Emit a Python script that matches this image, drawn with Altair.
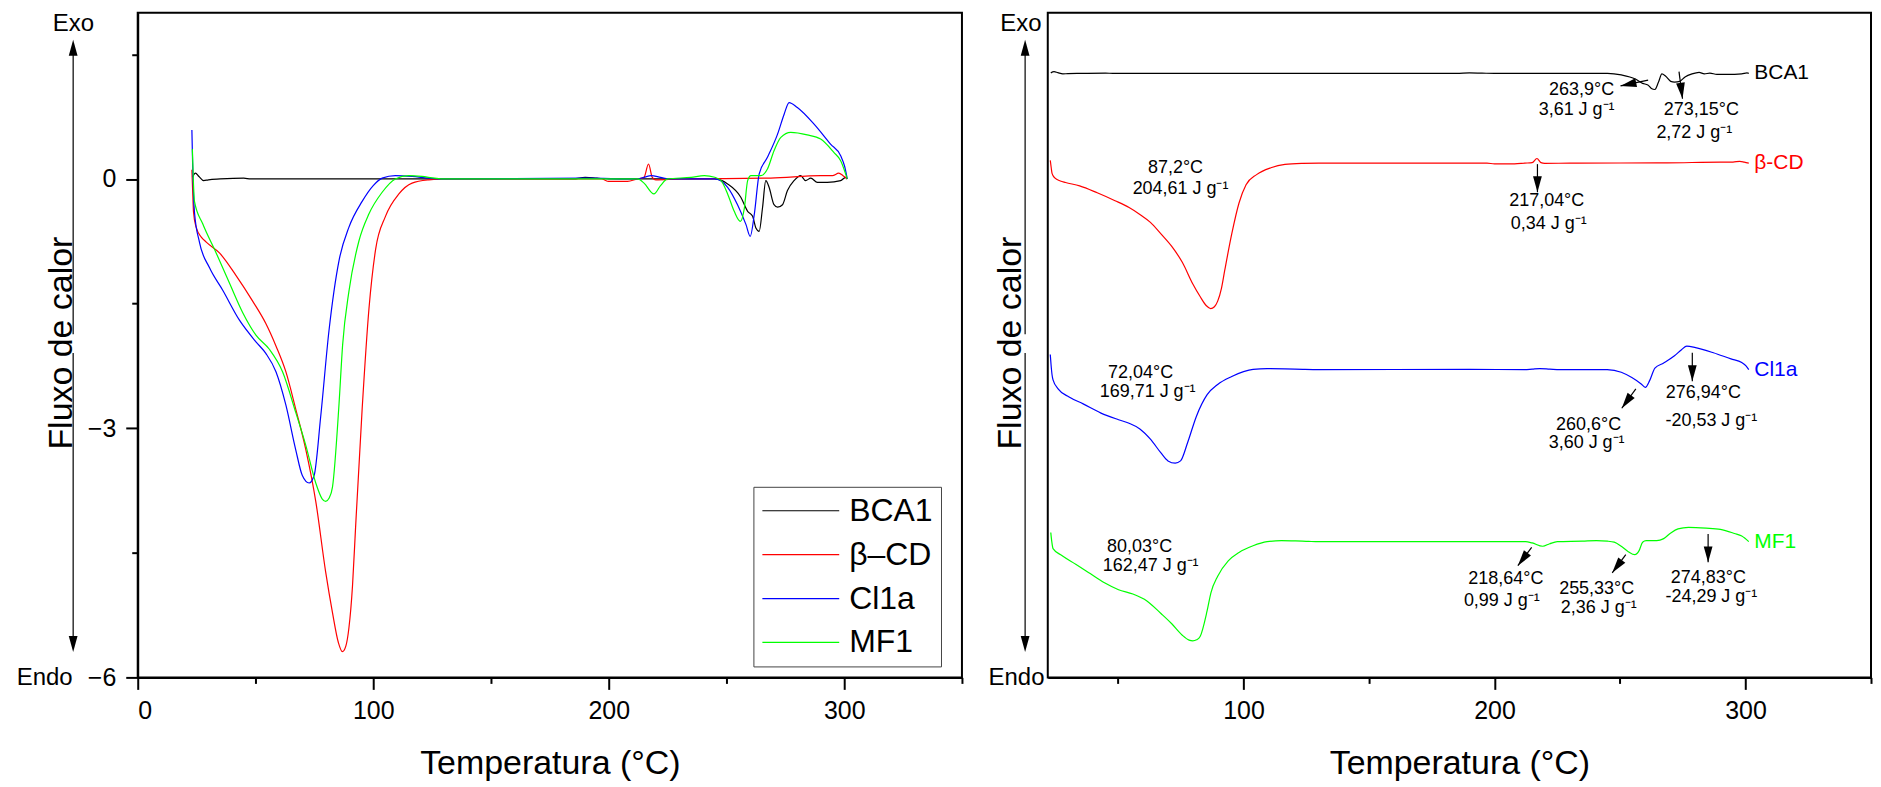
import math
import altair as alt
import pandas as pd

FONT = "Liberation Sans"

# ---------------- data ----------------
series_names = ["BCA1", "β–CD", "Cl1a", "MF1"]
right_labels = ["BCA1", "β-CD", "Cl1a", "MF1"]
series_colors = ["#000000", "#ff0000", "#0000ff", "#00ff00"]
right_offsets = [23.63, 20.12, 12.04, 5.31]

bca1_T = [23.2, 24.5, 26.0, 28.0, 30.0, 35.0, 45.0, 48.0, 55.0, 70.0, 100.0, 130.0, 160.0,
          185.0, 190.0, 195.0, 200.0, 240.0, 245.0, 250.5, 256.1, 259.0, 261.1, 262.5, 263.9,
          265.3, 266.7, 268.1, 270.2, 271.7, 273.8, 275.9, 278.7, 281.5, 283.6, 285.8, 288.6,
          292.8, 298.5, 300.6, 301.3]
bca1_v = [0.02, 0.07, 0.03, -0.02, -0.01, 0.0, 0.01, 0.0, 0.0, 0.0, 0.0, 0.0, 0.0,
          0.0, 0.02, 0.01, 0.0, 0.0, 0.0, -0.06, -0.22, -0.39, -0.45, -0.59, -0.63,
          -0.35, -0.02, -0.10, -0.31, -0.34, -0.31, -0.14, -0.02, 0.04, -0.02, 0.01, -0.04,
          -0.04, -0.02, 0.02, 0.0]

bcd_T = [23.0, 23.4, 23.7, 24.8, 27.0, 29.1, 34.7, 41.7, 48.8, 54.4, 58.7, 62.9, 67.1, 71.4,
         75.6, 79.8, 82.7, 85.2, 86.9, 88.4, 89.7, 91.2, 92.5, 95.3, 98.2, 101.0, 105.2, 110.9,
         116.5, 123.6, 130.0, 197.0, 200.0, 208.0, 212.0, 215.0, 216.9, 218.5, 220.0, 230.0,
         268.8, 290.0, 295.0, 297.7, 299.5, 301.3]
bcd_v = [0.11, -0.20, -0.40, -0.58, -0.70, -0.76, -0.89, -1.16, -1.47, -1.74, -2.01, -2.32,
         -2.77, -3.26, -3.88, -4.73, -5.22, -5.58, -5.69, -5.62, -5.40, -4.90, -4.20, -2.77,
         -1.56, -0.85, -0.45, -0.18, -0.05, -0.01, 0.0, 0.0, -0.03, -0.03, 0.0, 0.02, 0.18,
         0.02, -0.01, 0.0, 0.01, 0.04, 0.04, 0.07, 0.04, 0.0]

cl1a_T = [23.0, 23.3, 23.7, 24.1, 26.2, 30.5, 36.1, 43.2, 50.2, 54.4, 58.7, 62.9, 67.1, 69.9,
          72.8, 74.9, 77.7, 81.2, 85.5, 89.7, 95.3, 100.0, 103.8, 109.4, 116.5, 123.6, 130.0,
          190.0, 212.0, 215.0, 218.0, 222.0, 226.0, 244.9, 250.5, 254.7, 258.3, 260.1, 261.8,
          263.9, 267.4, 271.7, 274.5, 276.6, 280.1, 287.2, 294.2, 298.5, 300.2, 301.3]
cl1a_v = [0.59, 0.20, -0.20, -0.40, -0.76, -1.07, -1.34, -1.70, -1.96, -2.10, -2.32, -2.72,
          -3.26, -3.57, -3.66, -3.57, -2.86, -1.83, -0.98, -0.58, -0.27, -0.08, 0.01, 0.04,
          0.03, 0.01, 0.0, 0.01, 0.0, 0.02, 0.04, 0.02, 0.0, 0.0, -0.10, -0.31, -0.55, -0.69,
          -0.43, 0.06, 0.26, 0.54, 0.78, 0.92, 0.86, 0.66, 0.42, 0.28, 0.15, 0.0]

mf1_T = [23.2, 23.6, 24.1, 27.6, 33.3, 38.9, 44.6, 50.2, 55.9, 61.5, 67.1, 71.4, 75.6, 78.3,
         79.8, 81.3, 82.7, 85.5, 87.0, 89.7, 93.9, 98.2, 103.8, 109.4, 115.1, 120.7, 126.0,
         130.0, 212.4, 215.0, 219.2, 222.0, 225.0, 235.0, 240.6, 245.0, 247.7, 250.5, 253.3,
         255.9, 257.6, 259.0, 260.4, 264.6, 267.4, 270.2, 273.1, 277.3, 284.3, 290.0, 295.6,
         298.5, 301.3]
mf1_v = [0.36, 0.0, -0.27, -0.54, -0.89, -1.25, -1.61, -1.88, -2.05, -2.32, -2.81, -3.21,
         -3.66, -3.85, -3.88, -3.84, -3.71, -2.70, -2.00, -1.35, -0.75, -0.42, -0.16, 0.0,
         0.04, 0.03, 0.01, 0.0, 0.0, -0.05, -0.18, -0.08, 0.0, 0.02, 0.04, 0.02, -0.02, -0.18,
         -0.39, -0.51, -0.35, -0.02, 0.04, 0.04, 0.12, 0.34, 0.50, 0.56, 0.53, 0.48, 0.32,
         0.22, 0.0]

all_T = [bca1_T, bcd_T, cl1a_T, mf1_T]
all_v = [bca1_v, bcd_v, cl1a_v, mf1_v]

left_x_major = [0, 100, 200, 300]
left_x_minor = [50, 150, 250, 350]
right_x_major = [100, 200, 300]
right_x_minor = [50, 150, 250, 350]
y_major = [0, -3, -6]
y_minor = [1.5, -1.5, -4.5]

ann_text = ["87,2°C", "204,61 J g⁻¹", "72,04°C", "169,71 J g⁻¹", "80,03°C", "162,47 J g⁻¹",
            "263,9°C", "3,61 J g⁻¹", "273,15°C", "2,72 J g⁻¹", "217,04°C", "0,34 J g⁻¹",
            "260,6°C", "3,60 J g⁻¹", "276,94°C", "-20,53 J g⁻¹", "218,64°C", "0,99 J g⁻¹",
            "255,33°C", "2,36 J g⁻¹", "274,83°C", "-24,29 J g⁻¹"]
ann_T = [72.9, 74.9, 59.0, 61.8, 58.6, 63.0, 234.7, 232.7, 282.4, 279.6, 220.8, 221.6,
         237.5, 236.7, 283.2, 286.4, 204.5, 202.9, 240.7, 241.5, 285.2, 286.4]
ann_y = [19.91, 19.09, 11.91, 11.17, 5.11, 4.37, 22.99, 22.21, 22.21, 21.28, 18.62, 17.72,
         9.88, 9.17, 11.13, 10.03, 3.86, 3.00, 3.47, 2.73, 3.90, 3.16]

arr_T1 = [261.2, 273.5, 217.1, 256.3, 278.8, 214.8, 252.3, 285.1]
arr_y1 = [23.37, 23.70, 20.08, 11.29, 12.70, 5.09, 4.80, 5.61]
arr_T2 = [250.2, 274.9, 217.1, 250.7, 278.8, 209.3, 246.9, 285.1]
arr_y2 = [23.14, 22.64, 18.98, 10.53, 11.59, 4.37, 4.09, 4.50]

# ---------------- tables ----------------
rows = []
for name, lab, off, Ts, vs in zip(series_names, right_labels, right_offsets, all_T, all_v):
    for t, v in zip(Ts, vs):
        rows.append({"s": name, "T": t, "v": v, "yr": v + off})
df = pd.DataFrame(rows)

lab_df = pd.DataFrame({
    "s": series_names,
    "lab": right_labels,
    "T": [max(Ts) + 2.2 for Ts in all_T],
    "yr": right_offsets,
})

ann_df = pd.DataFrame({"T": ann_T, "y": ann_y, "text": ann_text})

LW, LH = 826, 666
RW, RH = 825, 666
x_left_dom = [0, 350]
x_right_dom = [22, 350]
y_left_dom = [-6, 2]
y_right_dom = [0, 26]

sx = RW / (x_right_dom[1] - x_right_dom[0])
sy = RH / (y_right_dom[1] - y_right_dom[0])
angles = []
for t1, y1, t2, y2 in zip(arr_T1, arr_y1, arr_T2, arr_y2):
    dx = (t2 - t1) * sx
    dy = -(y2 - y1) * sy
    angles.append(math.degrees(math.atan2(-dx, dy)) % 360)
arr_df = pd.DataFrame({"T1": arr_T1, "y1": arr_y1, "T2": arr_T2, "y2": arr_y2, "ang": angles})

# ---------------- helpers ----------------
UP = "M0,0L-0.55,2L0.55,2Z"
DOWN = "M0,0L-0.55,-2L0.55,-2Z"

color_scale = alt.Scale(domain=series_names, range=series_colors)


def deco(ax, exo_x, endo_x):
    base = alt.Chart(pd.DataFrame({"k": [0]}))
    exo = base.mark_text(text="Exo", font=FONT, fontSize=24, color="black",
                         align="center", baseline="middle").encode(
        x=alt.value(exo_x), y=alt.value(11.5))
    endo = base.mark_text(text="Endo", font=FONT, fontSize=24, color="black",
                          align="center", baseline="middle").encode(
        x=alt.value(endo_x), y=alt.value(666.5))
    r1 = base.mark_rule(color="black", strokeWidth=1.2).encode(
        x=alt.value(ax), y=alt.value(40), y2=alt.value(322))
    r2 = base.mark_rule(color="black", strokeWidth=1.2).encode(
        x=alt.value(ax), y=alt.value(341), y2=alt.value(626))
    h1 = base.mark_point(shape=UP, size=256, filled=True, color="black", opacity=1,
                         strokeWidth=0).encode(x=alt.value(ax), y=alt.value(27))
    h2 = base.mark_point(shape=DOWN, size=256, filled=True, color="black", opacity=1,
                         strokeWidth=0).encode(x=alt.value(ax), y=alt.value(640.5))
    return [exo, endo, r1, r2, h1, h2]


def x_major_axis(vals):
    return alt.Axis(values=vals, title="Temperatura (°C)", titleFontSize=34, titleY=96,
                    titleBaseline="alphabetic", labelFontSize=25, tickSize=12,
                    labelPadding=9, orient="bottom", format="d")


def minor_axis(vals, orient):
    return alt.Axis(values=vals, labels=False, domain=False, tickSize=6, title=None,
                    orient=orient)


# ---------------- left panel ----------------
xs_l = alt.Scale(domain=x_left_dom, nice=False, zero=False)
ys_l = alt.Scale(domain=y_left_dom, nice=False, zero=False)

lines_l = alt.Chart(df).mark_line(strokeWidth=1.2, interpolate="monotone").encode(
    x=alt.X("T:Q", scale=xs_l, axis=x_major_axis(left_x_major)),
    y=alt.Y("v:Q", scale=ys_l, axis=alt.Axis(
        values=y_major, title="Fluxo de calor", titleFontSize=34, titleX=-66.5, titleY=330.5,
        titleAngle=270, titleAlign="center", titleBaseline="alphabetic", labelFontSize=25,
        tickSize=12, labelPadding=10, orient="left")),
    color=alt.Color("s:N", scale=color_scale, sort=series_names, legend=alt.Legend(
        title=None, orient="none", legendX=617, legendY=475, symbolType="stroke",
        symbolSize=5929, symbolStrokeWidth=1.2, labelFontSize=32, labelFont=FONT,
        labelColor="black", labelOffset=9, strokeColor="#444444", fillColor="white",
        padding=8, clipHeight=32, rowPadding=12)),
)

minor_l = alt.Chart(pd.DataFrame({"mx": [100.0], "my": [0.0]})).mark_point(opacity=0).encode(
    x=alt.X("mx:Q", scale=xs_l, axis=minor_axis(left_x_minor, "bottom")),
    y=alt.Y("my:Q", scale=ys_l, axis=minor_axis(y_minor, "left")),
)

left = alt.layer(lines_l, minor_l, *deco(-64.7, -64.5, -93.3)).resolve_axis(
    x="independent", y="independent").properties(width=LW, height=LH)

# ---------------- right panel ----------------
xs_r = alt.Scale(domain=x_right_dom, nice=False, zero=False)
ys_r = alt.Scale(domain=y_right_dom, nice=False, zero=False)

lines_r = alt.Chart(df).mark_line(strokeWidth=1.2, interpolate="monotone").encode(
    x=alt.X("T:Q", scale=xs_r, axis=x_major_axis(right_x_major)),
    y=alt.Y("yr:Q", scale=ys_r, axis=alt.Axis(
        labels=False, ticks=False, domain=False, title="Fluxo de calor", titleFontSize=34,
        titleX=-27.3, titleY=330.5, titleAngle=270, titleAlign="center",
        titleBaseline="alphabetic", orient="left")),
    color=alt.Color("s:N", scale=color_scale, sort=series_names, legend=None),
)

minor_r = alt.Chart(pd.DataFrame({"mx": [100.0]})).mark_point(opacity=0).encode(
    x=alt.X("mx:Q", scale=xs_r, axis=minor_axis(right_x_minor, "bottom")),
    y=alt.value(0),
)

labels_r = alt.Chart(lab_df).mark_text(font=FONT, fontSize=21, align="left",
                                       baseline="middle").encode(
    x=alt.X("T:Q", scale=xs_r, axis=None),
    y=alt.Y("yr:Q", scale=ys_r, axis=None),
    text="lab:N",
    color=alt.Color("s:N", scale=color_scale, legend=None),
)

ann_r = alt.Chart(ann_df).mark_text(font=FONT, fontSize=18, color="black", align="center",
                                    baseline="middle").encode(
    x=alt.X("T:Q", scale=xs_r, axis=None),
    y=alt.Y("y:Q", scale=ys_r, axis=None),
    text="text:N",
)

shaft_r = alt.Chart(arr_df).mark_rule(color="black", strokeWidth=1.2).encode(
    x=alt.X("T1:Q", scale=xs_r, axis=None),
    y=alt.Y("y1:Q", scale=ys_r, axis=None),
    x2="T2:Q",
    y2="y2:Q",
)

head_r = alt.Chart(arr_df).mark_point(shape=DOWN, size=256, filled=True, color="black",
                                      opacity=1, strokeWidth=0).encode(
    x=alt.X("T2:Q", scale=xs_r, axis=None),
    y=alt.Y("y2:Q", scale=ys_r, axis=None),
    angle=alt.Angle("ang:Q", scale=None),
)

right = alt.layer(lines_r, minor_r, labels_r, ann_r, shaft_r, head_r,
                  *deco(-22.7, -27, -31.3)).resolve_axis(
    x="independent", y="independent").properties(width=RW, height=RH)

chart = alt.hconcat(left, right, spacing=86, bounds="flush").resolve_scale(
    color="independent").properties(
    padding={"left": 7, "top": 0, "right": 0, "bottom": 0}
).configure_view(stroke="black", strokeWidth=2).configure_axis(
    domainColor="black", domainWidth=2, tickColor="black", tickWidth=2,
    labelColor="black", titleColor="black", grid=False, labelFont=FONT, titleFont=FONT,
    titleFontWeight="normal")

chart.save("out.html", embed_options={"renderer": "svg", "actions": False})
